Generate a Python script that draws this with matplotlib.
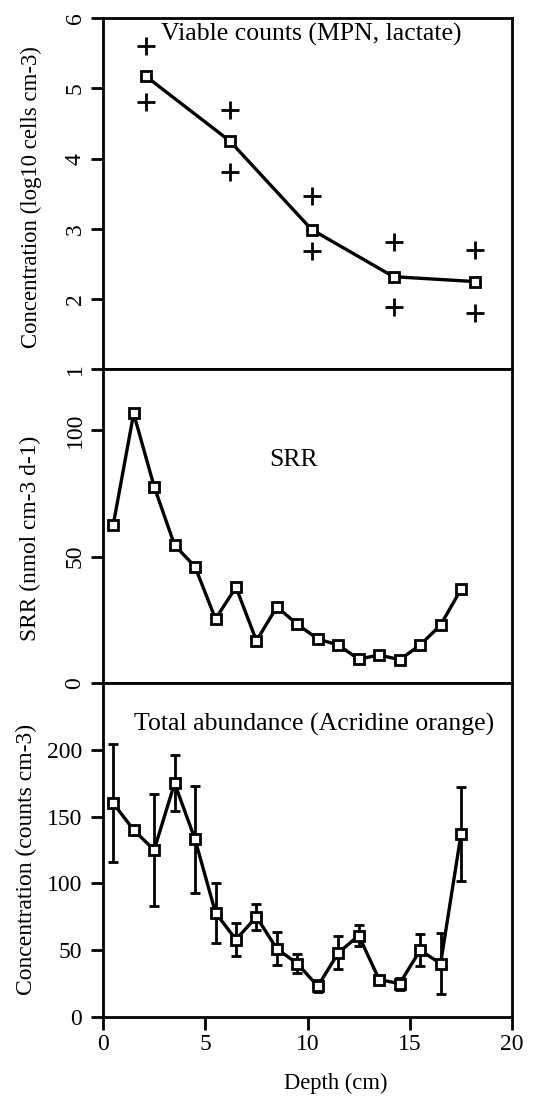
import numpy as np
import matplotlib.pyplot as plt

plt.rcParams['font.family'] = ['Liberation Serif', 'DejaVu Serif']

# Viable counts (MPN, lactate)
mpn_depth = [2.1, 6.2, 10.2, 14.2, 18.2]
mpn_mean = [5.17, 4.25, 2.99, 2.32, 2.25]
mpn_high = [5.6, 4.69, 3.47, 2.81, 2.7]
mpn_low = [4.81, 3.81, 2.69, 1.89, 1.8]

# SRR
srr_depth = np.arange(0.5, 18.0, 1.0)
srr = [62.5, 106.6, 77.7, 54.5, 46.0, 25.3, 37.9, 16.7, 30.1, 23.2,
       17.4, 15.0, 9.4, 11.1, 9.2, 15.0, 22.9, 37.1]

# Total abundance (Acridine orange)
ao_depth = np.arange(0.5, 18.0, 1.0)
ao = [160, 140, 125, 175, 133, 78, 58, 75, 51, 40,
      23, 48, 61, 28, 25, 50, 40, 137]
ao_err = [44, 1.5, 42, 21, 40, 22.5, 12, 9.5, 12.4, 7,
          4.5, 12.4, 8, 2, 4.4, 12, 23, 35]

fig = plt.figure(figsize=(5.42, 10.97), dpi=100)
left, width = 0.19, 0.755
ax1 = fig.add_axes([left, 0.6632, width, 0.3204])
ax2 = fig.add_axes([left, 0.3774, width, 0.2858])
ax3 = fig.add_axes([left, 0.0729, width, 0.3045])

line_kw = dict(color='black', linewidth=2.4, marker='s', markersize=6.5,
               markerfacecolor='white', markeredgecolor='black', markeredgewidth=2)

ax1.plot(mpn_depth, mpn_mean, **line_kw)
ax1.plot(mpn_depth, mpn_high, '+', color='black', markersize=13, markeredgewidth=2)
ax1.plot(mpn_depth, mpn_low, '+', color='black', markersize=13, markeredgewidth=2)
ax1.text(2.85, 5.77, 'Viable counts (MPN, lactate)', fontsize=18.5, va='center', ha='left')
ax1.set_ylim(1, 6)
ax1.set_yticks([1, 2, 3, 4, 5, 6])
ax1.set_ylabel('Concentration (log10 cells cm-3)', fontsize=16.4)
ax1.yaxis.set_label_coords(-0.149, 0.49)

ax2.plot(srr_depth, srr, **line_kw)
ax2.text(9.3, 88, 'SRR', fontsize=18.5, ha='center', va='center')
ax2.set_ylim(0, 124)
ax2.set_yticks([0, 50, 100])
ax2.set_ylabel('SRR (nmol cm-3 d-1)', fontsize=16.8)
ax2.yaxis.set_label_coords(-0.151, 0.46)

ax3.errorbar(ao_depth, ao, yerr=ao_err, capsize=3.5, elinewidth=2, capthick=2, **line_kw)
ax3.text(10.3, 219, 'Total abundance (Acridine orange)', fontsize=18.5, ha='center', va='center')
ax3.set_ylim(0, 250)
ax3.set_yticks([0, 50, 100, 150, 200])
ax3.set_ylabel('Concentration (counts cm-3)', fontsize=17)
ax3.yaxis.set_label_coords(-0.161, 0.473)
ax3.set_xlabel('Depth (cm)', fontsize=16.3)
ax3.xaxis.set_label_coords(0.57, -0.168)

for ax in (ax1, ax2, ax3):
    ax.set_xlim(0, 20)
    for s in ax.spines.values():
        s.set_linewidth(2)
    ax.tick_params(axis='y', direction='out', length=9, width=2, labelsize=17, right=False)
    ax.tick_params(axis='x', direction='out', length=9, width=2, labelsize=17, pad=3)

ax3.tick_params(axis='y', pad=6)

for ax in (ax1, ax2):
    ax.set_xticks([])
    for lab in ax.get_yticklabels():
        lab.set_rotation(90)
        lab.set_va('center')

ax3.set_xticks([0, 5, 10, 15, 20])

fig.savefig('out.png', dpi=100)
